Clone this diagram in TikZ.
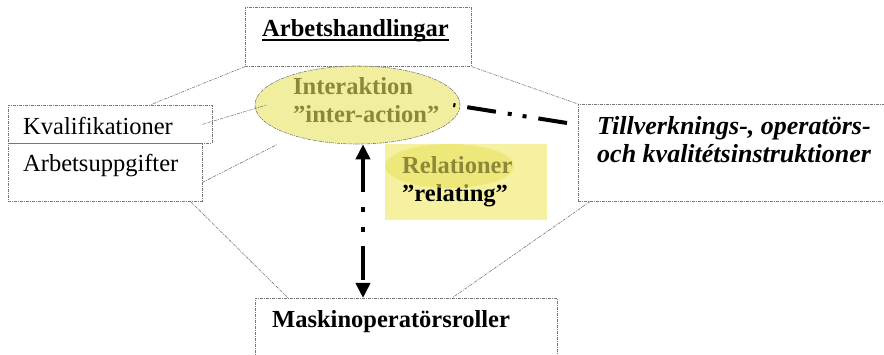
\documentclass[tikz,border=0pt]{standalone}
\usepackage{fontspec}
\setmainfont{Liberation Serif}
\usetikzlibrary{arrows.meta,shapes.geometric}

\definecolor{hilite}{RGB}{233,227,95}
\definecolor{relbg}{RGB}{245,241,160}
\definecolor{framegray}{RGB}{120,120,120}

\tikzset{
  edge/.style={draw=framegray, line width=0.6pt, dash pattern=on 3pt off 1pt on 1pt off 1pt},
  frame/.style={edge, inner sep=0pt, anchor=north west},
  txt/.style={anchor=base west, inner sep=0pt, align=left, font=\fontsize{24.5}{28.5}\selectfont},
  glow/.style={fill=hilite, fill opacity=0.6, inner sep=0pt},
  heavy/.style={line width=4pt},
}

\begin{document}
\begin{tikzpicture}[x=1pt,y=-1pt]
\useasboundingbox (0,0) rectangle (884,355);
\clip (0,0) rectangle (884,355);

% boxes
\node[frame, minimum width=226pt, minimum height=59pt] (arbet) at (245,7) {};
\node[frame, minimum width=204pt, minimum height=38pt] (kval) at (8,105) {};
\node[frame, minimum width=194pt, minimum height=58pt] (uppg) at (8,143) {};
\node[frame, minimum width=330pt, minimum height=97pt] (instr) at (578,104) {};
\node[frame, minimum width=302pt, minimum height=70pt] (maskin) at (255,298) {};
\node[fill=relbg, inner sep=0pt, anchor=north west, minimum width=162pt, minimum height=76pt] (rel) at (385,144) {};

% texts (base = last line)
\node[txt] (arbettxt) at (262,37) {\bfseries Arbetshandlingar};
\draw[line width=1.5pt] ([yshift=-3pt]arbettxt.base west) -- ([yshift=-3pt]arbettxt.base east);
\node[txt] (kvaltxt) at (23,135) {Kvalifikationer};
\node[txt] (uppgtxt) at (23,172) {Arbetsuppgifter};
\node[txt] (intertxt) at (293,123) {\bfseries Interaktion\\\bfseries ”inter-action”};
\node[txt] (reltxt) at (402,202) {\bfseries Relationer\\\bfseries ”relating”};
\node[txt, font=\fontsize{26}{28}\selectfont] (instrtxt) at (597,163) {\bfseries\itshape Tillverknings-, operatörs-\\\bfseries\itshape och kvalitétsinstruktioner};
\node[txt] (maskintxt) at (272,328) {\bfseries Maskinoperatörsroller};

% yellow ellipses
\node[glow, ellipse, edge, minimum width=205pt, minimum height=78pt] (inter) at (357.5,105) {};
\node[glow, ellipse, minimum width=129pt, minimum height=44pt] (relglow) at (449.5,166) {};

% thin links
\draw[edge] (arbet.south west) -- ([xshift=142pt]kval.north west);
\draw[edge] (arbet.south east) -- (instr.north west);
\draw[edge] ([xshift=-10pt]kval.east) -- ([xshift=12pt]inter.west);
\draw[edge] ([yshift=-10pt]uppg.east) -- ([xshift=-80pt]inter.south);
\draw[edge] ([xshift=-12pt]uppg.south east) -- ([xshift=33pt]maskin.north west);
\draw[edge] ([xshift=12pt]instr.south west) -- ([xshift=197pt]maskin.north west);

% thick links
\draw[heavy, {Triangle[length=15pt,width=14pt]}-{Triangle[length=15pt,width=14pt]},
  dash pattern=on 34pt off 15pt on 5pt off 15pt on 5pt off 14pt]
  ([xshift=5.5pt]inter.south) -- ([xshift=108pt]maskin.north west);
\draw[heavy, dash pattern=on 29pt off 12pt on 4pt off 11pt on 4pt off 12pt]
  ([xshift=-11pt,yshift=-19pt]instr.north west) -- ([xshift=-7pt]inter.east);
\end{tikzpicture}
\end{document}
